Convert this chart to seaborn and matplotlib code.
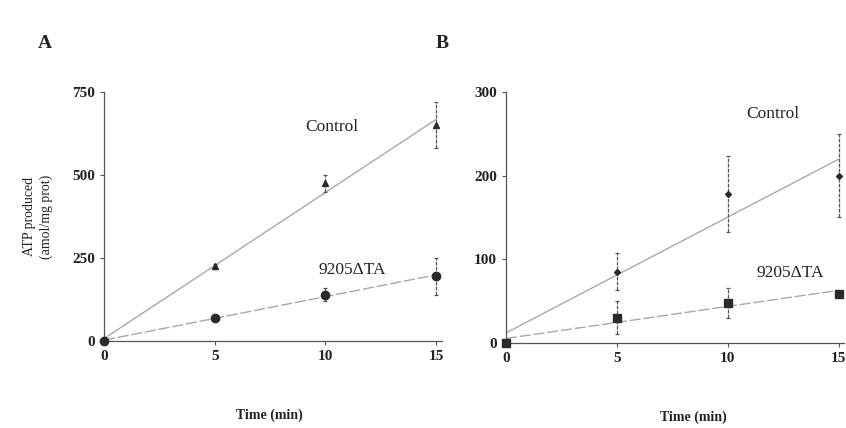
import numpy as np
import pandas as pd
import matplotlib
matplotlib.use("Agg")
import matplotlib.pyplot as plt
import seaborn as sns

time = [0, 5, 10, 15]
a_control = [0, 225, 475, 650]
a_control_err = [0, 8, 25, 70]
a_mutant = [0, 70, 140, 195]
a_mutant_err = [0, 6, 20, 55]
b_control = [0, 85, 178, 200]
b_control_err = [0, 22, 45, 50]
b_mutant = [0, 30, 48, 58]
b_mutant_err = [0, 20, 18, 3]

sns.set_style("ticks")
plt.rcParams["font.family"] = ["Liberation Serif", "DejaVu Serif"]

fig = plt.figure(figsize=(8.46, 4.28), dpi=100)
axA = fig.add_axes([0.123, 0.203, 0.399, 0.582])
axB = fig.add_axes([0.598, 0.199, 0.400, 0.586])

line_col = "#a8a8a8"
pt_col = "#2a2a2a"
txt_col = "#222222"

def panel(ax, ctrl, cerr, mut, merr, cmark, mmark, ymax, yticks, lab_c, lab_m, xlab_pos):
    df_c = pd.DataFrame({"t": time, "v": ctrl})
    df_m = pd.DataFrame({"t": time, "v": mut})
    sns.regplot(data=df_c, x="t", y="v", ax=ax, scatter=False, ci=None,
                line_kws=dict(color=line_col, lw=1.0))
    sns.regplot(data=df_m, x="t", y="v", ax=ax, scatter=False, ci=None,
                line_kws=dict(color=line_col, lw=1.0, ls=(0, (8, 2))))
    for vals, err, mk, ms in [(ctrl, cerr, cmark[0], cmark[1]), (mut, merr, mmark[0], mmark[1])]:
        _, caps, bars = ax.errorbar(time, vals, yerr=err, fmt=mk, ms=ms, color=pt_col,
                    ecolor="#555555", elinewidth=0.9, capsize=1.5, capthick=0.9,
                    clip_on=False, zorder=4)
        for b in bars:
            b.set_linestyle((0, (3, 1)))
    ax.set_xlim(0, 15.25)
    ax.set_ylim(0, ymax)
    ax.set_xticks([0, 5, 10, 15])
    ax.set_yticks(yticks)
    sns.despine(ax=ax)
    for s in ["left", "bottom"]:
        ax.spines[s].set_color("#555555")
        ax.spines[s].set_linewidth(0.9)
    ax.tick_params(axis="both", length=3, width=0.8, color="#555555",
                   labelsize=11, labelcolor=txt_col)
    for t in ax.get_xticklabels() + ax.get_yticklabels():
        t.set_fontweight("bold")
    ax.set_xlabel("Time (min)", fontsize=10, fontweight="bold", color=txt_col, labelpad=33)
    ax.xaxis.label.set_x(xlab_pos)
    ax.set_ylabel("")
    ax.text(*lab_c, "Control", fontsize=12.5, color=txt_col, ha="center", va="center")
    ax.text(*lab_m, "9205ΔTA", fontsize=12.5, color=txt_col, ha="center", va="center")

panel(axA, a_control, a_control_err, a_mutant, a_mutant_err, ("^", 4), ("o", 6),
      750, [0, 250, 500, 750], (10.3, 645), (11.2, 214), 0.49)
panel(axB, b_control, b_control_err, b_mutant, b_mutant_err, ("D", 3), ("s", 6),
      300, [0, 100, 200, 300], (12.05, 274), (12.8, 84), 0.553)

axA.set_ylabel("ATP produced\n(amol/mg prot)", fontsize=10, color=txt_col, labelpad=14,
               linespacing=1.3)

fig.text(45 / 846, 1 - 44 / 428, "A", fontsize=14, fontweight="bold", color=txt_col,
         ha="center", va="center")
fig.text(442 / 846, 1 - 44 / 428, "B", fontsize=14, fontweight="bold", color=txt_col,
         ha="center", va="center")

fig.savefig("out.png", dpi=100)
